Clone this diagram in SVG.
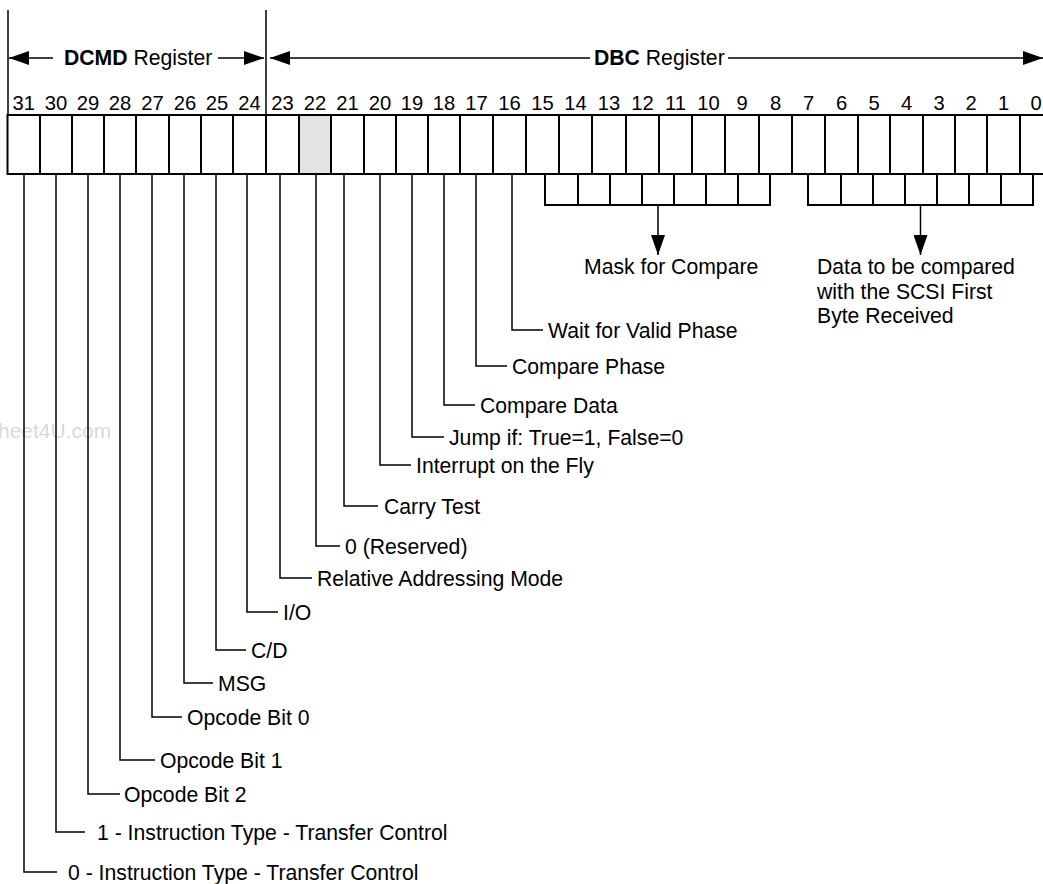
<svg xmlns="http://www.w3.org/2000/svg" width="1043" height="884" viewBox="0 0 1043 884">
<defs>
<style>
text{font-family:"Liberation Sans",Arial,sans-serif;fill:#000}
.lbl{font-size:21.2px}
.num{font-size:20.2px;text-anchor:middle}
.b{font-weight:bold}
.reg{fill:#fff;stroke:#000;stroke-width:2}
.div{stroke:#000;stroke-width:2}
.ld{fill:none;stroke:#000;stroke-width:1.5}
.br{fill:none;stroke:#000;stroke-width:2}
.wm{font-size:21px;fill:#d9d9d9}
</style>
<marker id="ah" viewBox="0 0 20 14" refX="20" refY="7" markerWidth="20" markerHeight="14" markerUnits="userSpaceOnUse" orient="auto">
<path d="M0,0 L20,7 L0,14 Z" fill="#000"/>
</marker>
</defs>
<rect width="1043" height="884" fill="#fff"/>
<text class="wm" x="-2" y="438">heet4U.com</text>

<g id="headers">
<line class="ld" x1="8" y1="10" x2="8" y2="115"/>
<line class="ld" x1="266" y1="10" x2="266" y2="115"/>
<line class="ld" x1="53" y1="58" x2="9" y2="58" marker-end="url(#ah)"/>
<text class="lbl" x="64" y="65"><tspan class="b">DCMD</tspan> Register</text>
<line class="ld" x1="218" y1="58" x2="264" y2="58" marker-end="url(#ah)"/>
<line class="ld" x1="590" y1="58" x2="270" y2="58" marker-end="url(#ah)"/>
<text class="lbl" x="594" y="65"><tspan class="b">DBC</tspan> Register</text>
<line class="ld" x1="728" y1="58" x2="1043" y2="58" marker-end="url(#ah)"/>
</g>

<g id="register">
<rect class="reg" x="7.5" y="115" width="1046" height="59"/>
<rect x="299" y="116" width="32" height="57" fill="#e3e3e3"/>
<path class="div" d="M40,115V174M72,115V174M104,115V174M136,115V174M169,115V174M201,115V174M233,115V174M266,115V174M299,115V174M331,115V174M364,115V174M396,115V174M428,115V174M460,115V174M493,115V174M526,115V174M559,115V174M592,115V174M626,115V174M659,115V174M692,115V174M725,115V174M759,115V174M792,115V174M825,115V174M858,115V174M890,115V174M923,115V174M955,115V174M987,115V174M1020,115V174"/>
<text class="num" x="23.8" y="110">31</text>
<text class="num" x="56" y="110">30</text>
<text class="num" x="88" y="110">29</text>
<text class="num" x="120" y="110">28</text>
<text class="num" x="152.5" y="110">27</text>
<text class="num" x="185" y="110">26</text>
<text class="num" x="217" y="110">25</text>
<text class="num" x="249.5" y="110">24</text>
<text class="num" x="282.5" y="110">23</text>
<text class="num" x="315" y="110">22</text>
<text class="num" x="347.5" y="110">21</text>
<text class="num" x="380" y="110">20</text>
<text class="num" x="412" y="110">19</text>
<text class="num" x="444" y="110">18</text>
<text class="num" x="476.5" y="110">17</text>
<text class="num" x="509.5" y="110">16</text>
<text class="num" x="542.5" y="110">15</text>
<text class="num" x="575.5" y="110">14</text>
<text class="num" x="609" y="110">13</text>
<text class="num" x="642.5" y="110">12</text>
<text class="num" x="675.5" y="110">11</text>
<text class="num" x="708.5" y="110">10</text>
<text class="num" x="742" y="110">9</text>
<text class="num" x="775.5" y="110">8</text>
<text class="num" x="808.5" y="110">7</text>
<text class="num" x="841.5" y="110">6</text>
<text class="num" x="874" y="110">5</text>
<text class="num" x="906.5" y="110">4</text>
<text class="num" x="939" y="110">3</text>
<text class="num" x="971" y="110">2</text>
<text class="num" x="1003.5" y="110">1</text>
<text class="num" x="1036" y="110">0</text>
</g>

<g id="connectors">
<path class="br" d="M545,175V205H770V175M578,175V205M610,175V205M642,175V205M674,175V205M706,175V205M738,175V205"/>
<line class="ld" x1="658" y1="205" x2="658" y2="255" marker-end="url(#ah)"/>
<path class="br" d="M808,175V205H1033V175M841,175V205M873,175V205M905,175V205M937,175V205M969,175V205M1001,175V205"/>
<line class="ld" x1="920.5" y1="205" x2="920.5" y2="255" marker-end="url(#ah)"/>
<path class="ld" d="M512,175V330H543"/>
<path class="ld" d="M476,175V366H507"/>
<path class="ld" d="M444,175V405H475"/>
<path class="ld" d="M412,175V437H444"/>
<path class="ld" d="M380,175V465H411"/>
<path class="ld" d="M344,175V506H378"/>
<path class="ld" d="M316,175V546H340"/>
<path class="ld" d="M280,175V578H312"/>
<path class="ld" d="M247,175V612H278"/>
<path class="ld" d="M216,175V650H246"/>
<path class="ld" d="M184,175V683H213"/>
<path class="ld" d="M152,175V717H182"/>
<path class="ld" d="M120,175V760H155"/>
<path class="ld" d="M88,175V794H120"/>
<path class="ld" d="M56,175V832H85"/>
<path class="ld" d="M24,175V872H57"/>
</g>

<g id="mask"><text class="lbl" x="584" y="274">Mask for Compare</text></g>
<g id="data"><text class="lbl" x="817" y="274">Data to be compared</text><text class="lbl" x="817" y="298.5">with the SCSI First</text><text class="lbl" x="817" y="323">Byte Received</text></g>
<g id="bit16"><text class="lbl" x="548" y="337.5">Wait for Valid Phase</text></g>
<g id="bit17"><text class="lbl" x="512" y="373.5">Compare Phase</text></g>
<g id="bit18"><text class="lbl" x="480" y="412.5">Compare Data</text></g>
<g id="bit19"><text class="lbl" x="449" y="444.5">Jump if: True=1, False=0</text></g>
<g id="bit20"><text class="lbl" x="416" y="472.5">Interrupt on the Fly</text></g>
<g id="bit21"><text class="lbl" x="384" y="513.5">Carry Test</text></g>
<g id="bit22"><text class="lbl" x="345" y="553.5">0 (Reserved)</text></g>
<g id="bit23"><text class="lbl" x="317" y="585.5">Relative Addressing Mode</text></g>
<g id="bit24"><text class="lbl" x="283" y="619.5">I/O</text></g>
<g id="bit25"><text class="lbl" x="251" y="657.5">C/D</text></g>
<g id="bit26"><text class="lbl" x="218" y="690.5">MSG</text></g>
<g id="bit27"><text class="lbl" x="187" y="724.5">Opcode Bit 0</text></g>
<g id="bit28"><text class="lbl" x="160" y="767.5">Opcode Bit 1</text></g>
<g id="bit29"><text class="lbl" x="124" y="801.5">Opcode Bit 2</text></g>
<g id="bit30"><text class="lbl" x="97" y="839.5">1 - Instruction Type - Transfer Control</text></g>
<g id="bit31"><text class="lbl" x="68" y="879.5">0 - Instruction Type - Transfer Control</text></g>
</svg>
